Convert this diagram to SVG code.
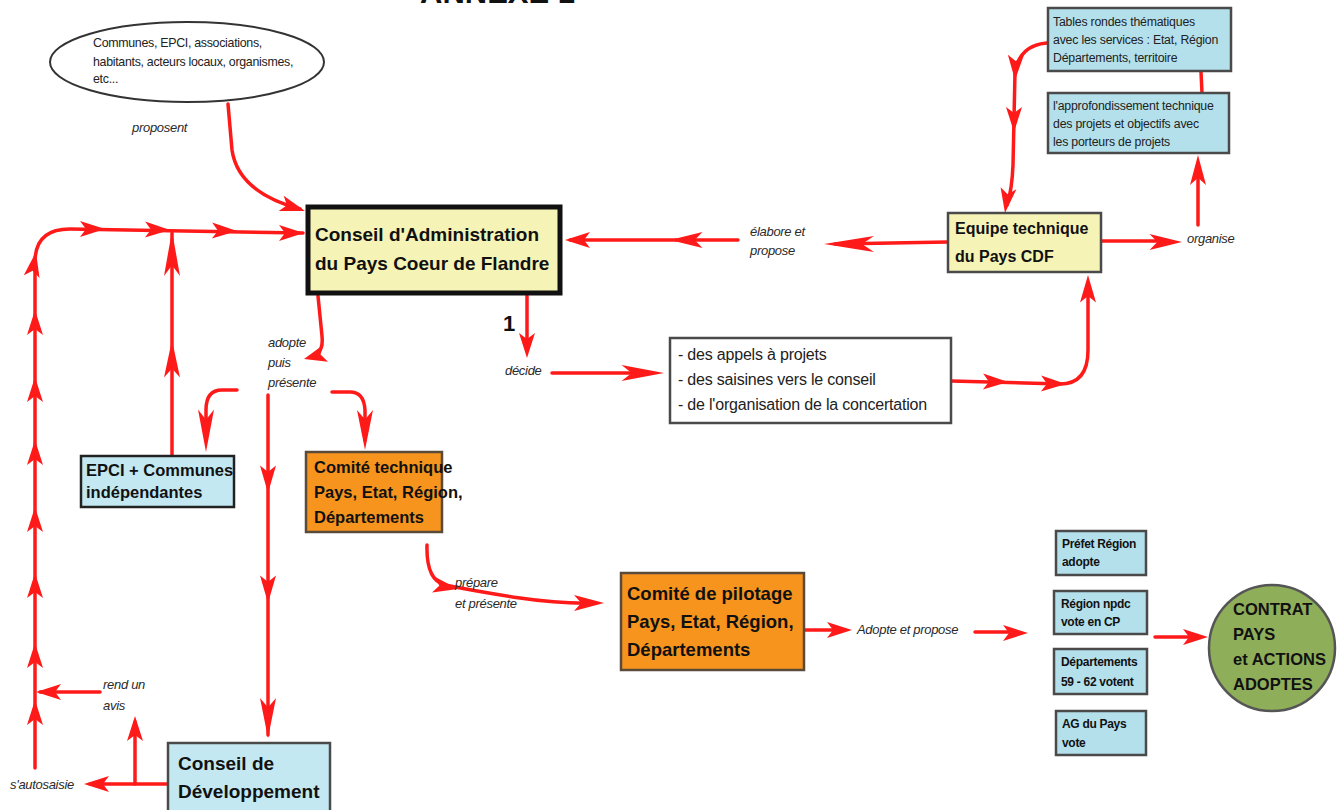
<svg xmlns="http://www.w3.org/2000/svg" xmlns:xlink="http://www.w3.org/1999/xlink" width="1341" height="810" viewBox="0 0 1341 810">
<style>
.bg{fill:#ffffff}
.ln{fill:none;stroke:#ff1a1a;stroke-width:3.5;stroke-linecap:round;stroke-linejoin:round}
.lbl{font-family:"Liberation Sans",Arial,sans-serif;font-style:italic;font-size:13px;fill:#2a2a2a;letter-spacing:-0.3px}
.bx{stroke:#4a4a4a;stroke-width:2.5}
.yel{fill:#f6f3b6}
.blu{fill:#b4e0ec}
.lblu{fill:#c4e8f2}
.org{fill:#f7941e;stroke:#5a4a3a;stroke-width:2.5}
.bt{font-family:"Liberation Sans",Arial,sans-serif;font-weight:bold;fill:#111}
.rt{font-family:"Liberation Sans",Arial,sans-serif;fill:#222}
</style>
<defs>
<path id="ah" d="M0,0 L-25,-8 L-19,0 L-25,8 Z" fill="#ff1a1a"/>
</defs>
<rect class="bg" x="0" y="0" width="1341" height="810"/>
<text x="420" y="3" class="bt" font-size="31">ANNEXE 1</text>

<g id="connectors">
<path class="ln" d="M228,104 L232,150 Q238,192 300,209"/>
<use xlink:href="#ah" transform="translate(305,211) rotate(18)"/>
<path class="ln" d="M35,768 L35,262 Q35,229 70,229 L303,233"/>
<use xlink:href="#ah" transform="translate(35,700) rotate(-90)"/>
<use xlink:href="#ah" transform="translate(35,643) rotate(-90)"/>
<use xlink:href="#ah" transform="translate(35,573) rotate(-90)"/>
<use xlink:href="#ah" transform="translate(35,507) rotate(-90)"/>
<use xlink:href="#ah" transform="translate(35,440) rotate(-90)"/>
<use xlink:href="#ah" transform="translate(35,377) rotate(-90)"/>
<use xlink:href="#ah" transform="translate(35,310) rotate(-90)"/>
<use xlink:href="#ah" transform="translate(36,252) rotate(-80)"/>
<use xlink:href="#ah" transform="translate(105,229) rotate(0)"/>
<use xlink:href="#ah" transform="translate(170,230) rotate(1)"/>
<use xlink:href="#ah" transform="translate(237,231) rotate(1)"/>
<use xlink:href="#ah" transform="translate(304,233) rotate(0)"/>
<path class="ln" d="M100,692 L40,692"/>
<use xlink:href="#ah" transform="translate(36,692) rotate(180)"/>
<path class="ln" d="M168,784 L90,784"/>
<use xlink:href="#ah" transform="translate(84,784) rotate(180)"/>
<path class="ln" d="M135,784 L135,722"/>
<use xlink:href="#ah" transform="translate(135,716) rotate(-90)"/>
<path class="ln" d="M172,456 L172,233"/>
<use xlink:href="#ah" transform="translate(172,340) rotate(-90) scale(1.5,1)"/>
<use xlink:href="#ah" transform="translate(172,231) rotate(-90) scale(1.8,1)"/>
<path class="ln" d="M318,296 L322,336 Q324,354 310,357"/>
<use xlink:href="#ah" transform="translate(304,359) rotate(165) scale(0.9,1.1)"/>
<path class="ln" d="M237,390 L222,390 Q206,390 206,410 L206,440"/>
<use xlink:href="#ah" transform="translate(206,452) rotate(90) scale(1.7,1)"/>
<path class="ln" d="M268,395 L268,735"/>
<use xlink:href="#ah" transform="translate(268,493) rotate(90) scale(1.1,1)"/>
<use xlink:href="#ah" transform="translate(268,603) rotate(90) scale(1.1,1)"/>
<use xlink:href="#ah" transform="translate(268,738) rotate(90) scale(1.6,1)"/>
<path class="ln" d="M332,392 L350,392 Q364,392 365,410 L365,440"/>
<use xlink:href="#ah" transform="translate(365,450) rotate(90) scale(1.6,1)"/>
<path class="ln" d="M527,296 L527,345"/>
<use xlink:href="#ah" transform="translate(527,358) rotate(90)"/>
<path class="ln" d="M552,373 L650,373"/>
<use xlink:href="#ah" transform="translate(664,373) rotate(0) scale(1.7,1)"/>
<path class="ln" d="M951,381 L1060,384 Q1088,384 1088,350 L1088,285"/>
<use xlink:href="#ah" transform="translate(1008,382) rotate(1)"/>
<use xlink:href="#ah" transform="translate(1066,384) rotate(1)"/>
<use xlink:href="#ah" transform="translate(1088,275) rotate(-90) scale(1.1,1)"/>
<path class="ln" d="M948,242 L835,244"/>
<use xlink:href="#ah" transform="translate(824,244) rotate(180) scale(2,1)"/>
<path class="ln" d="M738,240 L570,240"/>
<use xlink:href="#ah" transform="translate(670,240) rotate(180) scale(1.3,1)"/>
<use xlink:href="#ah" transform="translate(565,240) rotate(180)"/>
<path class="ln" d="M1101,241 L1165,241"/>
<use xlink:href="#ah" transform="translate(1182,242) rotate(0) scale(1.3,1)"/>
<path class="ln" d="M1198,225 L1198,165"/>
<use xlink:href="#ah" transform="translate(1198,155) rotate(-90) scale(1.2,1)"/>
<path class="ln" d="M1202,93 L1201,72"/>
<path class="ln" d="M1047,43 Q1020,45 1015,72 L1013,165 Q1012,190 1007,205"/>
<use xlink:href="#ah" transform="translate(1015,80) rotate(92)"/>
<use xlink:href="#ah" transform="translate(1014,132) rotate(90)"/>
<use xlink:href="#ah" transform="translate(1005,213) rotate(98)"/>
<path class="ln" d="M427,545 Q426,580 445,585 Q480,592 520,598 Q560,604 595,603"/>
<use xlink:href="#ah" transform="translate(458,589) rotate(10)"/>
<use xlink:href="#ah" transform="translate(604,603) rotate(0) scale(1.2,1)"/>
<path class="ln" d="M805,630 L835,630"/>
<use xlink:href="#ah" transform="translate(852,630) rotate(0)"/>
<path class="ln" d="M975,632 L1010,632"/>
<use xlink:href="#ah" transform="translate(1028,633) rotate(0)"/>
<path class="ln" d="M1155,637 L1190,637"/>
<use xlink:href="#ah" transform="translate(1208,637) rotate(0)"/>
</g>

<g id="labels">
<text class="lbl" x="132" y="132">proposent</text>
<text class="lbl" x="750" y="236">élabore et</text>
<text class="lbl" x="750" y="255">propose</text>
<text class="lbl" x="1187" y="243">organise</text>
<text class="lbl" x="268" y="347">adopte</text>
<text class="lbl" x="268" y="367">puis</text>
<text class="lbl" x="268" y="387">présente</text>
<text class="lbl" x="505" y="375">décide</text>
<text class="lbl" x="455" y="587">prépare</text>
<text class="lbl" x="455" y="608">et présente</text>
<text class="lbl" x="857" y="634">Adopte et propose</text>
<text class="lbl" x="103" y="689">rend un</text>
<text class="lbl" x="103" y="710">avis</text>
<text class="lbl" x="10" y="789">s'autosaisie</text>
<text class="bt" x="503" y="331" font-size="22">1</text>
</g>

<g id="acteurs">
<ellipse cx="187" cy="62" rx="137" ry="40" fill="#fff" stroke="#333" stroke-width="2"/>
<text class="rt" font-size="12.4" letter-spacing="-0.3" x="93" y="47">Communes, EPCI, associations,</text>
<text class="rt" font-size="12.4" letter-spacing="-0.3" x="93" y="66">habitants, acteurs locaux, organismes,</text>
<text class="rt" font-size="12.4" letter-spacing="-0.3" x="93" y="83">etc...</text>
</g>

<g id="conseil-admin">
<rect x="308" y="207" width="252" height="86" class="yel" stroke="#111" stroke-width="5"/>
<text class="bt" font-size="19" x="315" y="241">Conseil d'Administration</text>
<text class="bt" font-size="19" x="315" y="270">du Pays Coeur de Flandre</text>
</g>

<g id="equipe">
<rect x="948" y="213" width="153" height="59" class="yel bx"/>
<text class="bt" font-size="16" x="955" y="234">Equipe technique</text>
<text class="bt" font-size="16" x="955" y="262">du Pays CDF</text>
</g>

<g id="tables">
<rect x="1048" y="8" width="183" height="63" class="blu bx"/>
<text class="rt" font-size="12.3" letter-spacing="-0.2" x="1053" y="26">Tables rondes thématiques</text>
<text class="rt" font-size="12.3" letter-spacing="-0.2" x="1053" y="44">avec les services : Etat, Région</text>
<text class="rt" font-size="12.3" letter-spacing="-0.2" x="1053" y="62">Départements, territoire</text>
</g>

<g id="approfondissement">
<rect x="1048" y="93" width="181" height="60" class="blu bx"/>
<text class="rt" font-size="12.3" letter-spacing="-0.2" x="1053" y="110">l'approfondissement technique</text>
<text class="rt" font-size="12.3" letter-spacing="-0.2" x="1053" y="128">des projets et objectifs avec</text>
<text class="rt" font-size="12.3" letter-spacing="-0.2" x="1053" y="146">les porteurs de projets</text>
</g>

<g id="decisions">
<rect x="670" y="338" width="281" height="85" fill="#fff" class="bx"/>
<text class="rt" font-size="16" letter-spacing="-0.2" x="678" y="360">- des appels à projets</text>
<text class="rt" font-size="16" letter-spacing="-0.2" x="678" y="385">- des saisines vers le conseil</text>
<text class="rt" font-size="16" letter-spacing="-0.2" x="678" y="410">- de l'organisation de la concertation</text>
</g>

<g id="epci">
<rect x="81" y="456" width="153" height="51" class="lblu" stroke="#222" stroke-width="2.5"/>
<text class="bt" font-size="16.5" x="86" y="476">EPCI + Communes</text>
<text class="bt" font-size="16.5" x="86" y="498">indépendantes</text>
</g>

<g id="comite-technique">
<rect x="306" y="452" width="136" height="80" class="org"/>
<text class="bt" font-size="16.5" x="314" y="473">Comité technique</text>
<text class="bt" font-size="16.5" x="314" y="498">Pays, Etat, Région,</text>
<text class="bt" font-size="16.5" x="314" y="523">Départements</text>
</g>

<g id="comite-pilotage">
<rect x="621" y="573" width="183" height="97" class="org"/>
<text class="bt" font-size="18.5" x="627" y="600">Comité de pilotage</text>
<text class="bt" font-size="18.5" x="627" y="628">Pays, Etat, Région,</text>
<text class="bt" font-size="18.5" x="627" y="656">Départements</text>
</g>

<g id="conseil-dev">
<rect x="168" y="743" width="162" height="75" class="lblu bx"/>
<text class="bt" font-size="19" x="178" y="770">Conseil de</text>
<text class="bt" font-size="19" x="178" y="798">Développement</text>
</g>

<g id="prefet">
<rect x="1056" y="531" width="90" height="44" class="blu bx"/>
<text class="bt" font-size="12" letter-spacing="-0.3" x="1062" y="548">Préfet Région</text>
<text class="bt" font-size="12" letter-spacing="-0.3" x="1062" y="566">adopte</text>
</g>
<g id="region">
<rect x="1054" y="591" width="93" height="43" class="blu bx"/>
<text class="bt" font-size="12" letter-spacing="-0.3" x="1061" y="608">Région npdc</text>
<text class="bt" font-size="12" letter-spacing="-0.3" x="1061" y="626">vote en CP</text>
</g>
<g id="departements">
<rect x="1054" y="649" width="93" height="45" class="blu bx"/>
<text class="bt" font-size="12" letter-spacing="-0.3" x="1061" y="666">Départements</text>
<text class="bt" font-size="12" letter-spacing="-0.3" x="1061" y="686">59 - 62 votent</text>
</g>
<g id="ag">
<rect x="1056" y="711" width="90" height="44" class="blu bx"/>
<text class="bt" font-size="12" letter-spacing="-0.3" x="1062" y="728">AG du Pays</text>
<text class="bt" font-size="12" letter-spacing="-0.3" x="1062" y="747">vote</text>
</g>

<g id="contrat">
<circle cx="1272" cy="648" r="63" fill="#8fae5a" stroke="#555" stroke-width="2.5"/>
<text class="bt" font-size="16.5" x="1233" y="615">CONTRAT</text>
<text class="bt" font-size="16.5" x="1233" y="640">PAYS</text>
<text class="bt" font-size="16.5" x="1233" y="665">et ACTIONS</text>
<text class="bt" font-size="16.5" x="1233" y="690">ADOPTES</text>
</g>
</svg>
